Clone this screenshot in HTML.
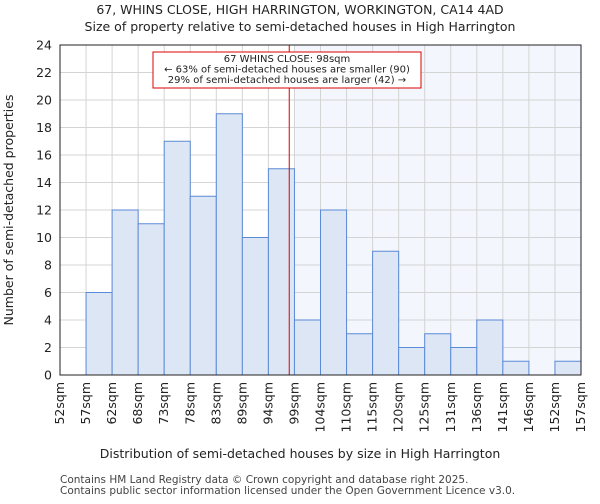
<!DOCTYPE html>
<html><head><meta charset="utf-8"><style>
body{margin:0;background:#fff;font-family:"DejaVu Sans","Liberation Sans",sans-serif;}
</style></head><body>
<svg id="c" width="600" height="500" xmlns="http://www.w3.org/2000/svg" font-family="DejaVu Sans, Liberation Sans, sans-serif">
<text x="300" y="14" text-anchor="middle" font-size="12.5" fill="#222">67, WHINS CLOSE, HIGH HARRINGTON, WORKINGTON, CA14 4AD</text>
<text x="300" y="31" text-anchor="middle" font-size="12.5" fill="#222">Size of property relative to semi-detached houses in High Harrington</text>
<g id="plot"></g>
<text x="300" y="458" text-anchor="middle" font-size="12.5" fill="#222">Distribution of semi-detached houses by size in High Harrington</text>
<text transform="translate(13,210) rotate(-90)" text-anchor="middle" font-size="12.5" fill="#222">Number of semi-detached properties</text>
<text x="60" y="483" font-size="10.5" fill="#444">Contains HM Land Registry data © Crown copyright and database right 2025.</text>
<text x="60" y="494" font-size="10.5" fill="#444">Contains public sector information licensed under the Open Government Licence v3.0.</text>
</svg>
<script>
const edges=["52sqm","57sqm","62sqm","68sqm","73sqm","78sqm","83sqm","89sqm","94sqm","99sqm","104sqm","110sqm","115sqm","120sqm","125sqm","131sqm","136sqm","141sqm","146sqm","152sqm","157sqm"];
const counts=[0,6,12,11,17,13,19,10,15,4,12,3,9,2,3,2,4,1,0,1];
const yTicks=[0,2,4,6,8,10,12,14,16,18,20,22,24];
const markerBin=8.8;
const highlightFromBin=9;
const L=60,R=581,T=45,B=375,YMAX=24;
const n=counts.length,bw=(R-L)/n;
const xs=i=>L+i*bw, ys=v=>B-(v/YMAX)*(B-T);
const g=document.getElementById('plot'),NS="http://www.w3.org/2000/svg";
function mk(t,a,p){const e=document.createElementNS(NS,t);for(const k in a)e.setAttribute(k,a[k]);(p||g).appendChild(e);return e;}
let e=mk('rect',{x:xs(highlightFromBin),y:T,width:R-xs(highlightFromBin),height:B-T,fill:'#f3f6fc'});


yTicks.forEach(v=>{const l=mk('line',{x1:L,x2:R,y1:ys(v),y2:ys(v),stroke:'#d4d4d4'});


const t=mk('text',{x:L-8,y:ys(v)+4.5,'text-anchor':'end','font-size':12.5,fill:'#222'});t.textContent=v;

});
edges.forEach((s,i)=>{const l=mk('line',{x1:xs(i),x2:xs(i),y1:T,y2:B,stroke:'#d4d4d4'});


const t=mk('text',{transform:`translate(${xs(i)+4},${B+7}) rotate(-90)`,'text-anchor':'end','font-size':12.5,fill:'#222'});t.textContent=s;

});
counts.forEach((v,i)=>{if(v<=0)return;const r=mk('rect',{x:xs(i),y:ys(v),width:bw,height:B-ys(v),fill:'#dce6f5',stroke:'#5b8ad6','stroke-width':1});

});
const mx=xs(markerBin);
e=mk('line',{x1:mx,x2:mx,y1:T,y2:B,stroke:'#dd0000','stroke-width':1});


e=mk('rect',{x:153,y:52,width:268,height:36,fill:'#fff',stroke:'#dd0000'});


["67 WHINS CLOSE: 98sqm","← 63% of semi-detached houses are smaller (90)","29% of semi-detached houses are larger (42) →"].forEach((s,i)=>{const t=mk('text',{x:287,y:62+i*10.5,'text-anchor':'middle','font-size':10,fill:'#222'});t.textContent=s;

});
e=mk('rect',{x:L,y:T,width:R-L,height:B-T,fill:'none',stroke:'#222'});


</script>
</body></html>
